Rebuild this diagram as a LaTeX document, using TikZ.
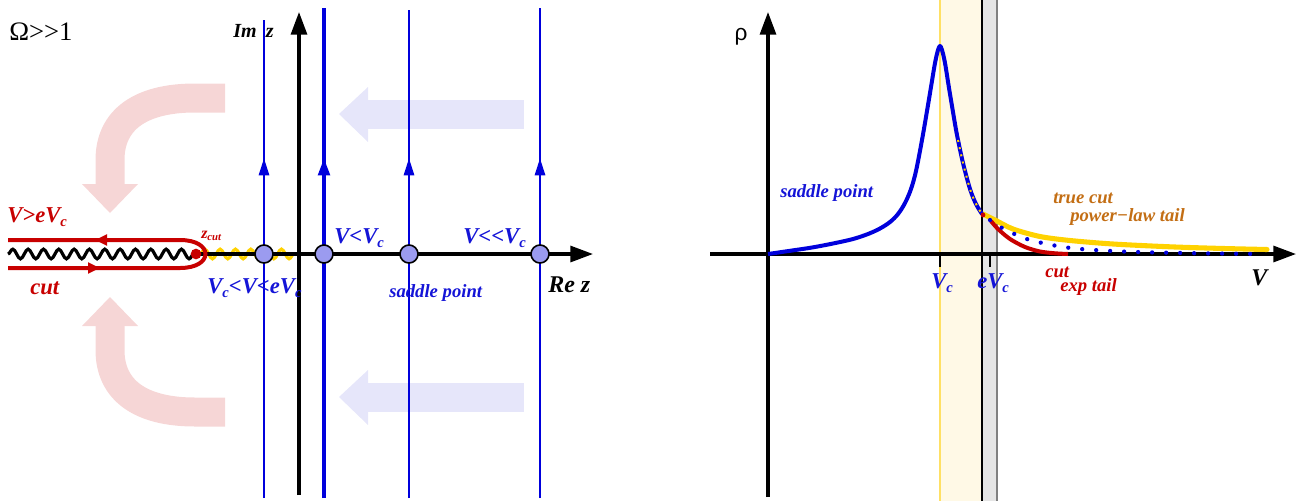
\documentclass[tikz,border=0pt]{standalone}
\usepackage{fontspec}
\setmainfont{Liberation Serif}
\newfontfamily\sansrho{Liberation Sans}
\usetikzlibrary{arrows.meta,decorations.pathmorphing}
\definecolor{cblue}{RGB}{0,0,220}
\definecolor{lblue}{RGB}{20,20,215}
\definecolor{cred}{RGB}{200,0,0}
\definecolor{corange}{RGB}{195,110,20}
\definecolor{cpink}{RGB}{246,214,214}
\definecolor{clav}{RGB}{230,230,250}
\definecolor{cyel}{RGB}{255,210,0}
\definecolor{cband}{RGB}{255,249,230}
\definecolor{cbandedge}{RGB}{255,224,100}
\definecolor{cgray}{RGB}{229,229,229}
\definecolor{cgrayedge}{RGB}{128,128,128}
\definecolor{cdot}{RGB}{155,155,240}
\newcommand\mysub[2][11]{\raisebox{-0.4ex}{\fontsize{#1}{#1}\selectfont #2}}
\begin{document}
\begin{tikzpicture}[x=0.75pt,y=-0.75pt,
  axis/.style={line width=2.3pt,-{Triangle[length=17pt,width=12pt]}},
  bline/.style={cblue,line width=2.1pt},
  bthick/.style={cblue,line width=3.1pt},
  barrow/.style={cblue,line width=2.1pt,-{Triangle[length=13pt,width=7.5pt]}},
  rarrow/.style={cred,line width=2.8pt,-{Triangle[length=9pt,width=8pt]}},
  saddle/.style={circle,draw=black,line width=1.2pt,fill=cdot,minimum size=13.5pt,inner sep=0},
  wave/.style={decorate,decoration={snake,segment length=11.5pt,amplitude=3.6pt},line width=2.4pt},
  lbl/.style={inner sep=0,anchor=base west,font=\bfseries\itshape\fontsize{17}{20}\selectfont},
  slbl/.style={inner sep=0,anchor=base west,font=\bfseries\itshape\fontsize{14}{16}\selectfont},
  bigarrow/.style={line width=21.75pt}
]
\useasboundingbox (0,0) rectangle (1307,501);

% ---------- left panel: background arrows ----------
\draw[bigarrow,cpink] (225,98) -- (195,98) .. controls (140,98) and (110,120) .. (110,160) -- (110,185);
\fill[cpink] (82,184) -- (138,184) -- (110,213) -- cycle;
\draw[bigarrow,cpink] (225,412) -- (195,412) .. controls (140,412) and (110,390) .. (110,350) -- (110,326);
\fill[cpink] (82,326) -- (138,326) -- (110,297) -- cycle;
\fill[clav] (368,100) rectangle (524,129);
\fill[clav] (368,87) -- (368,142) -- (339,114) -- cycle;
\fill[clav] (368,383) rectangle (524,412);
\fill[clav] (368,370) -- (368,425) -- (339,397) -- cycle;

% ---------- left panel: cut ----------
\coordinate (cutstart) at (8,254);
\coordinate (zc) at (196,254);
\coordinate (ystart) at (200,254);
\coordinate (yend) at (297,254);
\draw[wave,cyel] (ystart) -- (yend);
\draw[wave,black] (cutstart) -- (zc);

% vertical contour lines
\foreach \x/\t in {264/20,409/10,540/8}{
  \draw[bline] (\x,498) -- (\x,\t);
  \draw[barrow] (\x,185) -- (\x,158);
}
\draw[bthick] (324,498) -- (324,8);
\draw[cblue,line width=3pt,-{Triangle[length=13pt,width=8.5pt]}] (324,185) -- (324,158);

% axes
\coordinate (reA) at (200,254);
\coordinate (reB) at (593,254);
\coordinate (imA) at (299,495);
\coordinate (imB) at (299,12);
\draw[axis] (reA) -- (reB);
\draw[axis] (imA) -- (imB);

% hairpin
\draw[cred,line width=3pt] (8,240) -- (180,240) .. controls (214,240) and (214,268) .. (180,268) -- (8,268);
\draw[rarrow] (115,240) -- (95,240);
\draw[rarrow] (80,268) -- (100,268);
\fill[cred] (zc) circle (4pt);

% saddle points
\node[saddle] (s1) at (264,254) {};
\node[saddle] (s2) at (324,254) {};
\node[saddle] (s3) at (409,254) {};
\node[saddle] (s4) at (540,254) {};

% labels left
\node[inner sep=0,anchor=base west,font=\fontsize{20}{24}\selectfont] (omega) at (9,40) {Ω>\kern0pt>\kern0pt1};
\node[lbl,font=\bfseries\itshape\fontsize{15}{18}\selectfont] (imz) at (233,37) {Im\hspace{7pt}z};
\node[lbl,cred] (veevc) at (7,222) {V>eV\mysub{c}};
\node[lbl,cred] (cutl) at (30,294) {cut};
\node[inner sep=0,anchor=base west,cred,font=\bfseries\itshape\fontsize{12}{14}\selectfont] (zcut) at (201,238) {z\mysub[8]{cut}};
\node[lbl,lblue] (l1) at (207,293) {V\mysub{c}<V<eV\mysub{c}};
\node[lbl,lblue] (l2) at (334,243) {V<V\mysub{c}};
\node[lbl,lblue] (l3) at (463,243) {V<\kern0pt<V\mysub{c}};
\node[slbl,lblue] (l4) at (389,297) {saddle point};
\node[lbl,font=\bfseries\itshape\fontsize{18}{20}\selectfont] (rez) at (548,292) {Re z};

% ---------- right panel ----------
\fill[cband] (940,0) rectangle (982,501);
\fill[cgray] (982,0) rectangle (997,501);
\draw[cbandedge,line width=1.2pt] (940,0) -- (940,501);
\draw[black,line width=0.8pt] (982,0) -- (982,501);
\draw[cgrayedge,line width=1.2pt] (997,0) -- (997,501);

\coordinate (hA) at (710,254);
\coordinate (hB) at (1296,254);
\coordinate (vA) at (768,497);
\coordinate (vB) at (768,12);
\draw[axis] (hA) -- (hB);
\draw[axis] (vA) -- (vB);
\draw[line width=1.5pt] (940,254) -- (940,267);
\draw[line width=1.5pt] (990,254) -- (990,267);

% curves
\draw[cyel,line width=3.8pt,line cap=round] plot[smooth] coordinates {(983,214) (995,220) (1013,229) (1040,236.5) (1070,240.5) (1113,244) (1170,246.8) (1220,248.4) (1267,249.5)};
\draw[cred,line width=3pt] plot[smooth] coordinates {(991,221) (998,229) (1010,239) (1025,247) (1040,251.5) (1055,253.3) (1068,254)};
\draw[cblue,line width=3.2pt,line cap=round,dash pattern=on 0pt off 10.5pt] plot[smooth] coordinates {(990,220) (997,225) (1010,232) (1030,240) (1060,246.5) (1087,249.5) (1130,251.8) (1200,253.3) (1262,254)};
\draw[cblue,line width=3pt,line join=round] plot[smooth,tension=0.55] coordinates {(768,254) (790,250.8) (812,247.5) (833,243.5) (853,239) (868,234) (880,228.5) (890,222) (898,214) (905,203) (911,189) (916,171) (922,140) (927,111) (931,87) (935,63) (938,50) (940,46) (942,50) (945,63) (949,88) (953,112) (957,135) (963,163) (970,189) (976,204) (982,214)};
\draw[cyel,line width=1.5pt,dash pattern=on 1.5pt off 4pt] plot[smooth] coordinates {(958,140) (963,163) (970,189) (976,204) (982,214)};
\fill[cred] (983,215) circle (1.8pt);

% labels right
\node[inner sep=0,font=\sansrho\fontsize{17}{20}\selectfont] (rho) at (741,37) {ρ};
\node[slbl,lblue] (sp2) at (780,197) {saddle point};
\node[slbl,corange] (tc) at (1053,203) {true cut};
\node[slbl,corange] (plt) at (1070,221) {power−law tail};
\node[slbl,cred] (cut2) at (1045,277) {cut};
\node[slbl,cred] (expt) at (1060,291) {exp tail};
\node[lbl,lblue] (vc) at (931,288) {V\mysub{c}};
\node[lbl,lblue] (evc) at (977,288) {eV\mysub{c}};
\node[lbl,font=\bfseries\itshape\fontsize{18}{20}\selectfont] (vax) at (1251,285) {V};
\end{tikzpicture}
\end{document}
